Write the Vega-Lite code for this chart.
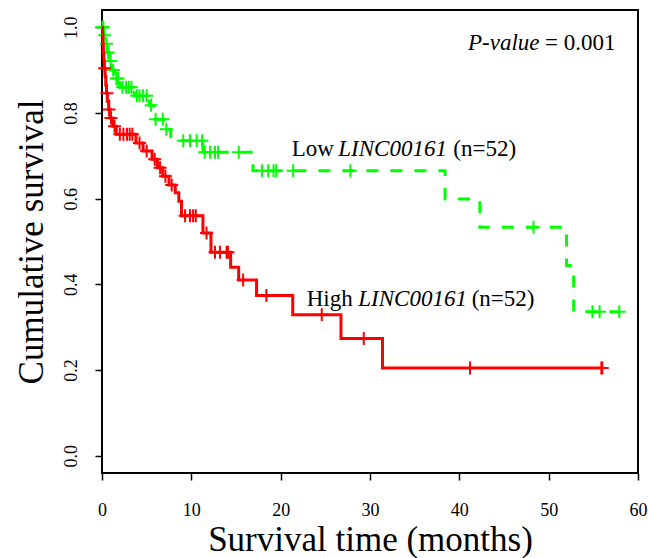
{
  "$schema": "https://vega.github.io/schema/vega-lite/v6.json",
  "width": 536,
  "height": 463,
  "autosize": "none",
  "padding": {"left": 102, "top": 10, "right": 10, "bottom": 85},
  "background": "white",
  "config": {
    "view": {"stroke": "black", "strokeWidth": 2},
    "axis": {
      "grid": false,
      "domain": false,
      "tickColor": "black",
      "tickWidth": 1.5,
      "tickSize": 7,
      "labelColor": "black",
      "titleColor": "black",
      "labelFont": "Liberation Serif",
      "titleFont": "Liberation Serif",
      "titleFontWeight": "normal",
      "labelFontSize": 18,
      "titleFontSize": 35
    }
  },
  "datasets": {
    "high": [
      {"time": 0, "surv": 1.0}, {"time": 0.05, "surv": 0.981}, {"time": 0.1, "surv": 0.962},
      {"time": 0.15, "surv": 0.942}, {"time": 0.2, "surv": 0.923}, {"time": 0.25, "surv": 0.904},
      {"time": 0.35, "surv": 0.885}, {"time": 0.42, "surv": 0.865}, {"time": 0.5, "surv": 0.846},
      {"time": 0.6, "surv": 0.827}, {"time": 0.75, "surv": 0.808}, {"time": 0.9, "surv": 0.788},
      {"time": 1.2, "surv": 0.769}, {"time": 1.6, "surv": 0.75}, {"time": 3.8, "surv": 0.73},
      {"time": 4.6, "surv": 0.711}, {"time": 5.6, "surv": 0.692}, {"time": 6.2, "surv": 0.672},
      {"time": 6.8, "surv": 0.652}, {"time": 7.5, "surv": 0.632}, {"time": 8.2, "surv": 0.614},
      {"time": 8.6, "surv": 0.594}, {"time": 8.9, "surv": 0.56}, {"time": 11.3, "surv": 0.52},
      {"time": 12.2, "surv": 0.475}, {"time": 14.4, "surv": 0.44}, {"time": 15.3, "surv": 0.41},
      {"time": 17.3, "surv": 0.374}, {"time": 21.35, "surv": 0.329}, {"time": 26.75, "surv": 0.274},
      {"time": 31.4, "surv": 0.205}, {"time": 56.0, "surv": 0.205}
    ],
    "high_censor": [
      {"time": 0.3, "surv": 0.904}, {"time": 0.55, "surv": 0.846}, {"time": 0.8, "surv": 0.808},
      {"time": 1.0, "surv": 0.788}, {"time": 1.4, "surv": 0.769}, {"time": 2.0, "surv": 0.75},
      {"time": 2.4, "surv": 0.75}, {"time": 2.8, "surv": 0.75}, {"time": 3.1, "surv": 0.75},
      {"time": 3.4, "surv": 0.75}, {"time": 4.2, "surv": 0.73}, {"time": 5.0, "surv": 0.711},
      {"time": 5.9, "surv": 0.692}, {"time": 6.5, "surv": 0.672}, {"time": 7.1, "surv": 0.652},
      {"time": 7.8, "surv": 0.632}, {"time": 9.3, "surv": 0.56}, {"time": 9.85, "surv": 0.56},
      {"time": 10.2, "surv": 0.56}, {"time": 10.5, "surv": 0.56}, {"time": 11.7, "surv": 0.52},
      {"time": 12.65, "surv": 0.475}, {"time": 13.2, "surv": 0.475}, {"time": 13.95, "surv": 0.475},
      {"time": 14.1, "surv": 0.475}, {"time": 15.8, "surv": 0.41}, {"time": 18.4, "surv": 0.374},
      {"time": 24.6, "surv": 0.329}, {"time": 29.3, "surv": 0.274}, {"time": 41.2, "surv": 0.205},
      {"time": 55.9, "surv": 0.205}, {"time": 56.0, "surv": 0.205}
    ],
    "low": [
      {"time": 0, "surv": 1.0}, {"time": 0.2, "surv": 0.981}, {"time": 0.4, "surv": 0.961},
      {"time": 0.6, "surv": 0.941}, {"time": 0.85, "surv": 0.921}, {"time": 1.1, "surv": 0.9},
      {"time": 1.4, "surv": 0.88}, {"time": 2.0, "surv": 0.86}, {"time": 3.6, "surv": 0.84},
      {"time": 5.3, "surv": 0.818}, {"time": 5.8, "surv": 0.785}, {"time": 6.9, "surv": 0.762},
      {"time": 7.7, "surv": 0.735}, {"time": 11.3, "surv": 0.708}, {"time": 16.9, "surv": 0.665},
      {"time": 38.4, "surv": 0.599}, {"time": 42.3, "surv": 0.533}, {"time": 52.0, "surv": 0.444},
      {"time": 52.8, "surv": 0.336}, {"time": 57.9, "surv": 0.336}
    ],
    "low_censor": [
      {"time": 0.05, "surv": 1.0}, {"time": 0.15, "surv": 1.0}, {"time": 0.3, "surv": 0.981},
      {"time": 0.5, "surv": 0.961}, {"time": 0.7, "surv": 0.941}, {"time": 0.95, "surv": 0.921},
      {"time": 1.25, "surv": 0.9}, {"time": 1.6, "surv": 0.88}, {"time": 1.8, "surv": 0.88},
      {"time": 2.3, "surv": 0.86}, {"time": 2.7, "surv": 0.86}, {"time": 3.0, "surv": 0.86},
      {"time": 3.3, "surv": 0.86}, {"time": 3.9, "surv": 0.84}, {"time": 4.2, "surv": 0.84},
      {"time": 4.6, "surv": 0.84}, {"time": 5.0, "surv": 0.84}, {"time": 5.5, "surv": 0.818},
      {"time": 6.0, "surv": 0.785}, {"time": 6.8, "surv": 0.785}, {"time": 7.2, "surv": 0.762},
      {"time": 9.1, "surv": 0.735}, {"time": 9.85, "surv": 0.735}, {"time": 10.6, "surv": 0.735},
      {"time": 11.2, "surv": 0.735}, {"time": 11.5, "surv": 0.708}, {"time": 12.1, "surv": 0.708},
      {"time": 12.65, "surv": 0.708}, {"time": 13.0, "surv": 0.708}, {"time": 15.3, "surv": 0.708},
      {"time": 17.9, "surv": 0.665}, {"time": 18.6, "surv": 0.665}, {"time": 19.2, "surv": 0.665},
      {"time": 19.5, "surv": 0.665}, {"time": 21.4, "surv": 0.665}, {"time": 27.8, "surv": 0.665},
      {"time": 48.3, "surv": 0.533}, {"time": 54.9, "surv": 0.336}, {"time": 55.7, "surv": 0.336},
      {"time": 57.9, "surv": 0.336}
    ],
    "labels_roman": [
      {"time": 21.24, "surv": 0.7, "label": "Low"},
      {"time": 39.33, "surv": 0.7, "label": "(n=52)"},
      {"time": 22.91, "surv": 0.35, "label": "High"},
      {"time": 41.38, "surv": 0.35, "label": "(n=52)"},
      {"time": 49.6, "surv": 0.946, "label": "= 0.001"}
    ],
    "labels_italic": [
      {"time": 26.45, "surv": 0.7, "label": "LINC00161"},
      {"time": 28.69, "surv": 0.35, "label": "LINC00161"},
      {"time": 40.97, "surv": 0.946, "label": "P-value"}
    ]
  },
  "encoding": {
    "x": {
      "field": "time",
      "type": "quantitative",
      "scale": {"domain": [0, 60], "nice": false, "zero": false},
      "axis": {
        "values": [0, 10, 20, 30, 40, 50, 60],
        "title": "Survival time (months)",
        "labelBaseline": "alphabetic",
        "labelPadding": 35,
        "titleBaseline": "alphabetic",
        "titleY": 77,
        "labelFlush": false
      }
    },
    "y": {
      "field": "surv",
      "type": "quantitative",
      "scale": {"domain": [-0.04, 1.04], "nice": false, "zero": false},
      "axis": {
        "values": [0, 0.2, 0.4, 0.6, 0.8, 1.0],
        "format": ".1f",
        "title": "Cumulative survival",
        "labelAngle": -90,
        "labelAlign": "center",
        "labelBaseline": "alphabetic",
        "labelPadding": 19,
        "titleAngle": -90,
        "titleAlign": "center",
        "titleBaseline": "alphabetic",
        "titleX": -60,
        "titleY": 231.5
      }
    }
  },
  "layer": [
    {
      "data": {"name": "low"},
      "mark": {"type": "line", "interpolate": "step-after", "color": "#00FF00", "strokeWidth": 3, "strokeDash": [12, 12]}
    },
    {
      "data": {"name": "low_censor"},
      "mark": {"type": "point", "shape": "M-1,0L1,0M0,-1L0,1", "filled": false, "color": "#00FF00", "strokeWidth": 2, "size": 169, "opacity": 1}
    },
    {
      "data": {"name": "high"},
      "mark": {"type": "line", "interpolate": "step-after", "color": "#FF0000", "strokeWidth": 3}
    },
    {
      "data": {"name": "high_censor"},
      "mark": {"type": "point", "shape": "M-1,0L1,0M0,-1L0,1", "filled": false, "color": "#FF0000", "strokeWidth": 2, "size": 169, "opacity": 1}
    },
    {
      "data": {"name": "labels_roman"},
      "mark": {"type": "text", "font": "Liberation Serif", "fontSize": 23, "align": "left", "baseline": "alphabetic", "color": "black"},
      "encoding": {"text": {"field": "label"}}
    },
    {
      "data": {"name": "labels_italic"},
      "mark": {"type": "text", "font": "Liberation Serif", "fontSize": 23, "fontStyle": "italic", "align": "left", "baseline": "alphabetic", "color": "black"},
      "encoding": {"text": {"field": "label"}}
    }
  ]
}
